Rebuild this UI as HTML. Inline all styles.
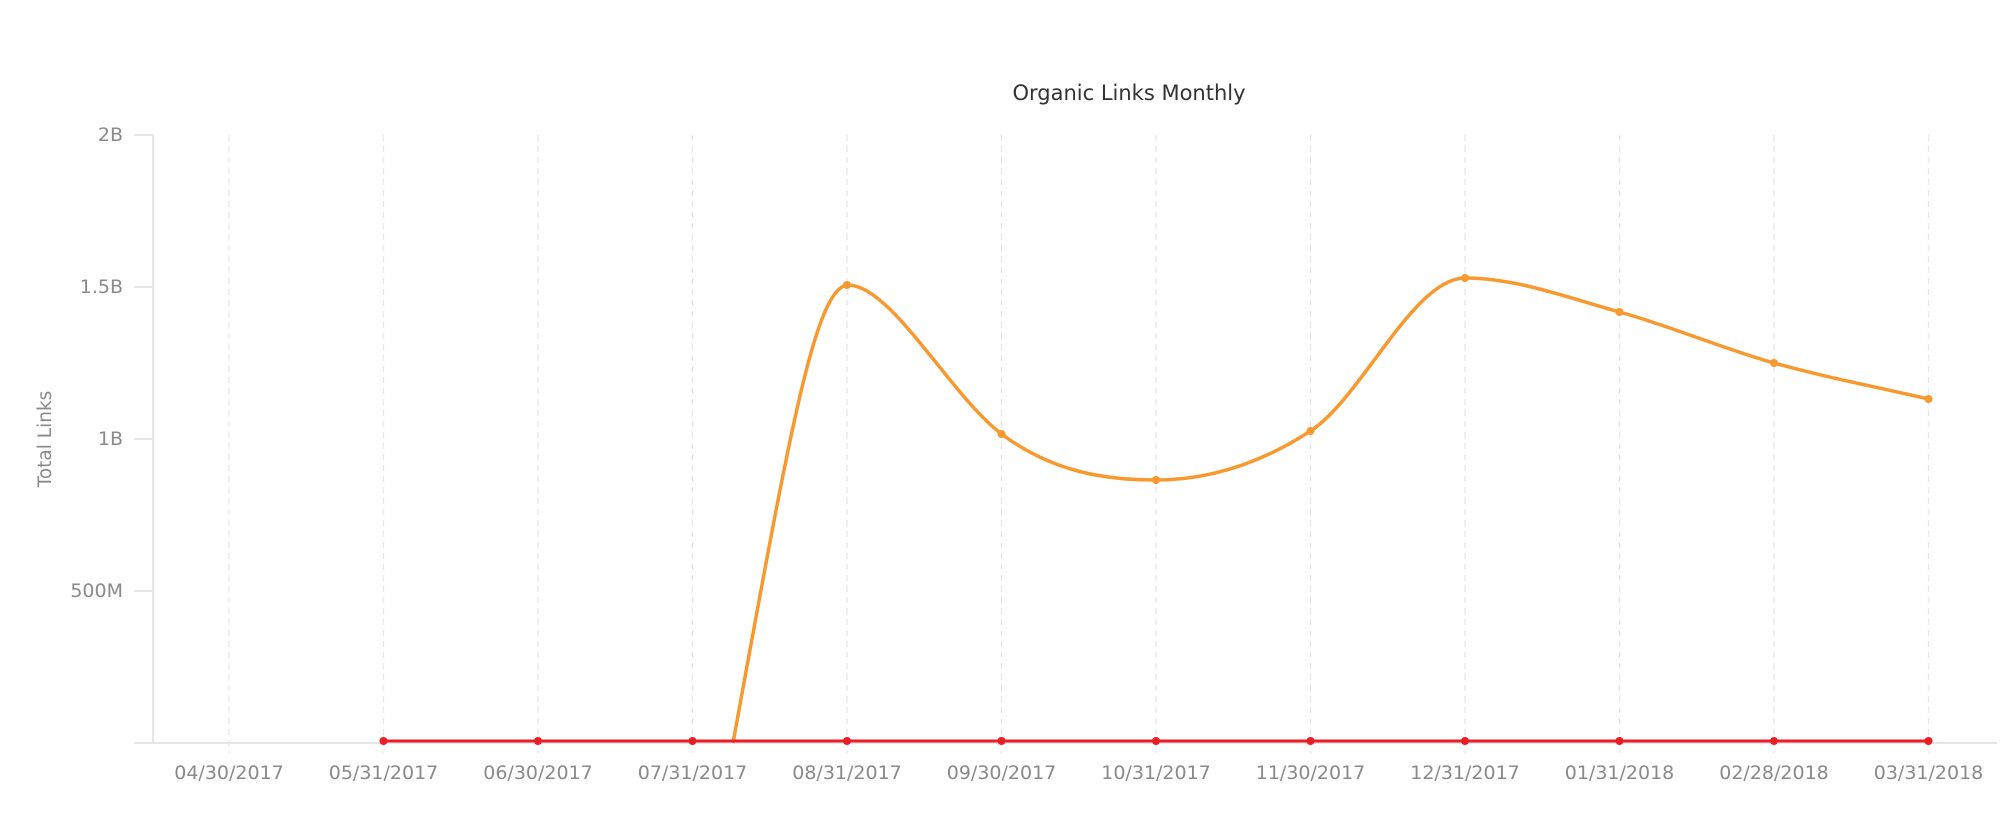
<!DOCTYPE html>
<html><head><style>body{margin:0;background:#fff}</style></head><body>
<svg width="2008" height="830" xmlns="http://www.w3.org/2000/svg" font-family="DejaVu Sans, Liberation Sans, sans-serif">
<rect width="2008" height="830" fill="#fff"/>
<text x="1129" y="100" text-anchor="middle" font-size="21" fill="#333">Organic Links Monthly</text>
<text transform="translate(51,439) rotate(-90)" text-anchor="middle" font-size="18.5" fill="#8a8a8a">Total Links</text>
<g stroke="#e6e6e6" stroke-width="2">
<line x1="153" y1="134" x2="153" y2="743"/>
<line x1="134" y1="743" x2="1997" y2="743"/>
<line x1="134" y1="135" x2="153" y2="135"/>
<line x1="134" y1="287" x2="153" y2="287"/>
<line x1="134" y1="439" x2="153" y2="439"/>
<line x1="134" y1="591" x2="153" y2="591"/>
</g>
<g stroke="#e6e6e6" stroke-width="1.3" stroke-dasharray="6,5">
<line x1="229" y1="135" x2="229" y2="753"/><line x1="383.5" y1="135" x2="383.5" y2="753"/><line x1="538" y1="135" x2="538" y2="753"/><line x1="692.5" y1="135" x2="692.5" y2="753"/><line x1="847" y1="135" x2="847" y2="753"/><line x1="1001.5" y1="135" x2="1001.5" y2="753"/><line x1="1156" y1="135" x2="1156" y2="753"/><line x1="1310.5" y1="135" x2="1310.5" y2="753"/><line x1="1465" y1="135" x2="1465" y2="753"/><line x1="1619.5" y1="135" x2="1619.5" y2="753"/><line x1="1774" y1="135" x2="1774" y2="753"/><line x1="1928.5" y1="135" x2="1928.5" y2="753"/>
</g>
<g font-size="19" fill="#8a8a8a" text-anchor="end">
<text x="123" y="141">2B</text><text x="123" y="293">1.5B</text><text x="123" y="445">1B</text><text x="123" y="597">500M</text>
</g>
<g font-size="19" fill="#8a8a8a" text-anchor="middle">
<text x="229" y="779">04/30/2017</text><text x="383.5" y="779">05/31/2017</text><text x="538" y="779">06/30/2017</text><text x="692.5" y="779">07/31/2017</text><text x="847" y="779">08/31/2017</text><text x="1001.5" y="779">09/30/2017</text><text x="1156" y="779">10/31/2017</text><text x="1310.5" y="779">11/30/2017</text><text x="1465" y="779">12/31/2017</text><text x="1619.5" y="779">01/31/2018</text><text x="1774" y="779">02/28/2018</text><text x="1928.5" y="779">03/31/2018</text>
</g>
<path d="M733,743 C790,430 815,290 847,285 C890,283 950,395 1001.5,434 C1053,472 1104.5,480 1156,480 C1207.5,480 1259,464.5 1310.5,431 C1362,397.5 1413.5,278 1465,278 C1516.5,278 1568,297.8 1619.5,312 C1671,326.2 1722.5,348.6 1774,363 C1825.5,377.4 1877,387 1928.5,399" fill="none" stroke="#f7992e" stroke-width="3.5"/>
<g fill="#f7992e">
<circle cx="847" cy="285" r="4"/><circle cx="1001.5" cy="434" r="4"/><circle cx="1156" cy="480" r="4"/><circle cx="1310.5" cy="431" r="4"/><circle cx="1465" cy="278" r="4"/><circle cx="1619.5" cy="312" r="4"/><circle cx="1774" cy="363" r="4"/><circle cx="1928.5" cy="399" r="4"/>
</g>
<line x1="383.5" y1="741" x2="1928.5" y2="741" stroke="#ec1c24" stroke-width="3"/>
<g fill="#ec1c24">
<circle cx="383.5" cy="741" r="4"/><circle cx="538" cy="741" r="4"/><circle cx="692.5" cy="741" r="4"/><circle cx="847" cy="741" r="4"/><circle cx="1001.5" cy="741" r="4"/><circle cx="1156" cy="741" r="4"/><circle cx="1310.5" cy="741" r="4"/><circle cx="1465" cy="741" r="4"/><circle cx="1619.5" cy="741" r="4"/><circle cx="1774" cy="741" r="4"/><circle cx="1928.5" cy="741" r="4"/>
</g>
</svg>
</body></html>
